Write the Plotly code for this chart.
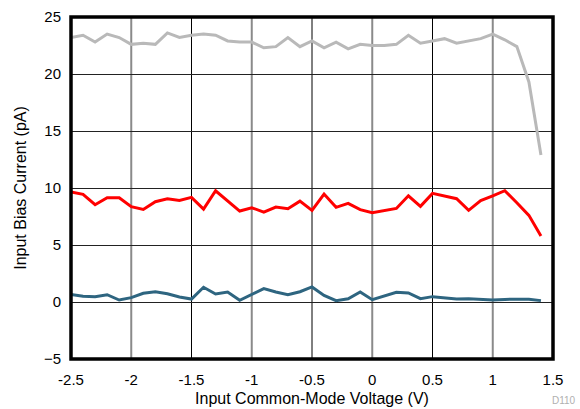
import plotly.graph_objects as go

voltage = [-2.5, -2.4, -2.3, -2.2, -2.1, -2.0, -1.9, -1.8, -1.7, -1.6,
           -1.5, -1.4, -1.3, -1.2, -1.1, -1.0, -0.9, -0.8, -0.7, -0.6,
           -0.5, -0.4, -0.3, -0.2, -0.1, 0.0, 0.1, 0.2, 0.3, 0.4,
           0.5, 0.6, 0.7, 0.8, 0.9, 1.0, 1.1, 1.2, 1.3, 1.4]

gray_series = [23.2, 23.4, 22.8, 23.5, 23.2, 22.6, 22.7, 22.6, 23.6, 23.2,
               23.4, 23.5, 23.4, 22.9, 22.8, 22.8, 22.3, 22.4, 23.2, 22.4,
               22.9, 22.3, 22.8, 22.2, 22.6, 22.5, 22.5, 22.6, 23.4, 22.7,
               22.9, 23.1, 22.7, 22.9, 23.1, 23.5, 23.0, 22.4, 19.3, 12.9]

red_series = [9.65, 9.44, 8.53, 9.15, 9.15, 8.36, 8.12, 8.8, 9.06, 8.91,
              9.18, 8.15, 9.76, 8.89, 7.98, 8.27, 7.89, 8.33, 8.18, 8.85,
              8.04, 9.47, 8.3, 8.65, 8.1, 7.83, 8.0, 8.21, 9.32, 8.39,
              9.53, 9.3, 9.06, 8.04, 8.89, 9.3, 9.76, 8.71, 7.6, 5.79]

teal_series = [0.67, 0.5, 0.47, 0.64, 0.17, 0.38, 0.76, 0.9, 0.73, 0.44,
               0.26, 1.29, 0.7, 0.88, 0.15, 0.64, 1.17, 0.88, 0.64, 0.9,
               1.32, 0.58, 0.12, 0.29, 0.88, 0.2, 0.56, 0.85, 0.79, 0.29,
               0.47, 0.38, 0.26, 0.29, 0.23, 0.18, 0.23, 0.23, 0.25, 0.12]

x_ticks = [-2.5, -2, -1.5, -1, -0.5, 0, 0.5, 1, 1.5]
x_tick_text = ["-2.5", "-2", "-1.5", "-1", "-0.5", "0", "0.5", "1", "1.5"]
x_dark_grid = [-1.5, -0.5, 0.5]
x_light_grid = [-2, -1, 0, 1]
y_ticks = [-5, 0, 5, 10, 15, 20, 25]

fig = go.Figure()
for ys, col in [(gray_series, "#B9B9B9"), (red_series, "#FF0000"), (teal_series, "#2E6580")]:
    fig.add_trace(go.Scatter(x=voltage, y=ys, mode="lines",
                             line=dict(color=col, width=3), showlegend=False))

# vertical gridlines: alternate dark / lighter as in the reference
for gx in x_dark_grid:
    fig.add_vline(x=gx, line=dict(color="black", width=1), layer="below")
for gx in x_light_grid:
    fig.add_vline(x=gx, line=dict(color="#8a8a8a", width=2), layer="below")

# heavy plot frame
fig.add_shape(type="rect", xref="paper", yref="paper", x0=0, x1=1, y0=0, y1=1,
              line=dict(color="black", width=3.5), layer="above")

font = "Liberation Sans, Arial, sans-serif"
fig.update_layout(
    width=580, height=409,
    margin=dict(l=71, r=27, t=17, b=50, autoexpand=False),
    paper_bgcolor="white", plot_bgcolor="white",
    font=dict(family=font, size=15, color="black"),
    xaxis=dict(range=[-2.5, 1.5], tickvals=x_ticks, ticktext=x_tick_text,
               showgrid=False, showline=False, zeroline=False,
               ticks="outside", ticklen=7, tickcolor="rgba(0,0,0,0)",
               automargin=False, tickfont=dict(size=15),
               title=dict(text="Input Common-Mode Voltage (V)", font=dict(size=16),
                          standoff=5)),
    yaxis=dict(range=[-5, 25], tickvals=y_ticks, showgrid=True, gridcolor="#222",
               gridwidth=1, showline=False, zeroline=False,
               ticks="outside", ticklen=6, tickcolor="rgba(0,0,0,0)",
               tickfont=dict(size=15), automargin=False,
               title=dict(text="Input Bias Current (pA)", font=dict(size=16),
                          standoff=13)),
    annotations=[dict(text="D110", xref="paper", yref="paper", x=0.994, y=-0.143,
                      xanchor="left", yanchor="bottom", showarrow=False,
                      font=dict(size=10, color="#b0b0b0"))],
)

fig.write_html("out.html", config={"displayModeBar": False},
               post_script="document.body.style.margin='0';")
